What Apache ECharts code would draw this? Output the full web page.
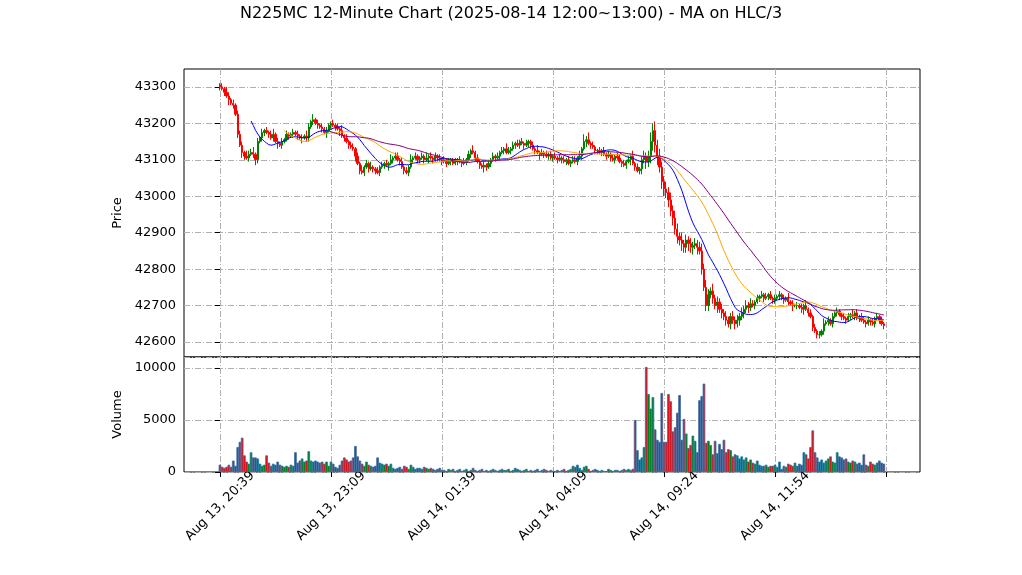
<!DOCTYPE html>
<html><head><meta charset="utf-8">
<script src="https://cdn.jsdelivr.net/npm/echarts@6/dist/echarts.min.js"></script>
<style>html,body{margin:0;padding:0;background:#fff}#c{width:1022px;height:575px}</style>
</head><body><div id="c"></div>
<script>
const closes = [
43300,43295,43285,43275,43265,43255,43250,43225,43170,43140,
43120,43110,43105,43115,43120,43115,43100,43150,43160,43175,
43180,43175,43170,43160,43170,43150,43145,43140,43150,43155,
43170,43165,43170,43175,43170,43165,43160,43160,43165,43160,
43190,43205,43210,43200,43195,43190,43185,43175,43180,43195,
43200,43195,43190,43185,43180,43165,43160,43150,43140,43135,
43130,43110,43090,43070,43065,43080,43090,43075,43080,43075,
43070,43065,43080,43085,43090,43085,43090,43100,43105,43110,
43100,43095,43080,43070,43065,43080,43100,43105,43110,43100,
43105,43110,43100,43105,43110,43105,43100,43110,43105,43100,
43095,43100,43090,43095,43100,43090,43095,43100,43095,43090,
43095,43100,43115,43125,43120,43105,43095,43085,43080,43085,
43080,43090,43100,43110,43105,43110,43120,43125,43130,43120,
43125,43130,43140,43145,43140,43150,43145,43140,43145,43150,
43140,43130,43125,43120,43115,43120,43115,43110,43115,43105,
43110,43105,43100,43105,43100,43095,43100,43090,43095,43100,
43095,43105,43110,43130,43150,43155,43145,43140,43135,43125,
43125,43120,43125,43115,43110,43115,43105,43100,43110,43105,
43095,43090,43085,43095,43100,43110,43090,43080,43070,43075,
43100,43110,43095,43110,43150,43180,43140,43110,43080,43040,
43020,43010,42990,42960,42940,42910,42890,42880,42870,42860,
42880,42870,42860,42865,42870,42860,42850,42800,42750,42700,
42730,42740,42720,42700,42710,42690,42680,42670,42660,42650,
42670,42660,42650,42660,42670,42680,42690,42700,42695,42705,
42700,42710,42720,42725,42730,42720,42725,42730,42720,42715,
42720,42725,42730,42720,42715,42720,42710,42705,42700,42700,
42700,42695,42690,42700,42690,42680,42670,42640,42630,42620,
42620,42630,42650,42655,42660,42650,42670,42680,42685,42675,
42670,42665,42660,42670,42675,42670,42680,42665,42670,42660,
42655,42650,42660,42655,42650,42665,42670,42660,42650,42645];
const firstOpen = 43305;
// upper / lower wick sizes, in units of 5 points
const upperWick = ("1213212122 2132231212 1212312121 2112121213 2131212121 1212131212 2121312131 1212121312 2121213121 1213121212 " +
 "1212112121 2121312112 1212121213 2121212121 1213121212 1212121212 2131424121 1212121212 2121213121 2323545343 " +
 "3434343242 3232323434 3242323232 2323232323 2121212121 2121213121 2121312121 2131212121 1212131212 2121212121").replace(/ /g,'');
const lowerWick = ("2121312121 3212123212 2121213121 1212121312 2121212131 2121312121 1312121212 2121213121 1212121212 2121312121 " +
 "2121211212 1212121213 2121212121 1212121212 2121312121 2121212121 1212131212 2121212121 1212131212 3243454534 " +
 "4343434343 3434242323 3232423232 3232323232 1212121212 2121212131 2123121212 2121212121 2121212121 1212121212").replace(/ /g,'');
const volumes = [
700,500,400,500,700,500,1100,600,2400,2900,
3300,1600,1000,800,1900,1400,1400,1300,800,600,
700,1600,900,600,800,700,1000,700,600,500,
600,500,700,600,1900,900,1100,1300,1000,1100,
2000,1100,1000,1100,1000,900,1000,800,1000,600,
1000,800,500,400,700,1100,1400,1200,1000,1100,
1400,2500,1500,1100,800,600,1000,700,600,500,
600,1400,900,800,700,800,600,800,400,300,
400,500,300,600,500,300,700,500,300,400,
400,300,500,400,300,400,300,200,300,400,
200,200,100,300,200,300,100,200,300,100,
200,300,100,200,400,200,100,200,300,100,
200,100,200,300,200,100,200,300,200,200,
300,100,200,400,300,200,100,200,300,100,
200,100,200,300,100,200,300,200,100,200,
100,100,200,100,200,300,100,200,300,600,
500,700,400,200,500,600,300,100,200,300,
200,100,200,100,100,300,200,100,200,200,
100,200,300,200,300,200,300,5000,2100,1200,
1400,2400,10100,7500,6100,7200,4100,3100,2900,7600,
2900,2900,7500,6800,3900,4300,5700,7400,3100,5100,
3700,2300,2600,3500,3000,1900,6900,7300,8500,2800,
3000,2600,1700,3000,1800,2700,2200,3100,1900,2200,
2100,1500,1700,1600,1300,1500,1200,1400,1000,1200,
900,800,1100,700,600,600,700,500,600,600,
700,500,1000,300,600,500,800,700,600,900,
600,800,700,1900,1700,1300,2400,4000,1900,1400,
1000,1200,900,1100,1300,1500,1000,900,1900,1500,
1400,1200,1300,1000,900,1100,1000,800,900,700,
1700,700,600,1000,800,700,900,1100,900,800];
const tickIndex = [0,50,100,150,200,250,300];
const tickLabels = ['Aug 13, 20:39','Aug 13, 23:09','Aug 14, 01:39','Aug 14, 04:09','Aug 14, 09:24','Aug 14, 11:54',''];
const priceTicks = [42600,42700,42800,42900,43000,43100,43200,43300];
const maWindows = [15,30,50];
const maColors = ['#0000ff','#ffa500','#800080'];

const UP='#008000', DN='#ff0000';
const candles=[], vols=[], hlc=[];
for(let i=0;i<closes.length;i++){
  const o = i===0?firstOpen:closes[i-1], c=closes[i];
  const h=Math.max(o,c)+5*(+upperWick[i]), l=Math.min(o,c)-5*(+lowerWick[i]);
  const up=c>=o;
  candles.push([i,o,c,l,h]);
  vols.push({value:[i,volumes[i]],itemStyle:{color:up?UP:DN}});
  hlc.push((h+l+c)/3);
}
const maSeries = maWindows.map((w,k)=>{
  const d=[];
  for(let i=w-1;i<hlc.length;i++){let s=0;for(let j=i-w+1;j<=i;j++)s+=hlc[j];d.push([i,s/w]);}
  return {type:'line',xAxisIndex:0,yAxisIndex:0,data:d,showSymbol:false,symbol:'none',
    lineStyle:{color:maColors[k],width:1},z:5,animation:false};
});
const grid = '#b0b0b0';
const split = {show:true,lineStyle:{color:grid,type:[6,2,1,2],width:1}};
const font = {fontFamily:'DejaVu Sans',fontSize:13,color:'#000'};
const xmin=-16.2, xmax=315.3;
const ch = echarts.init(document.getElementById('c'),null,{renderer:'canvas'});
ch.setOption({
  animation:false,
  backgroundColor:'#fff',
  title:{text:'N225MC 12-Minute Chart (2025-08-14 12:00~13:00) - MA on HLC/3',left:'center',top:1,
    textStyle:{fontFamily:'DejaVu Sans',fontSize:16,fontWeight:'normal',color:'#000'}},
  grid:[{left:184,width:736,top:69,height:288,show:true,borderColor:'#000',borderWidth:1},
        {left:184,width:736,top:357,height:115,show:true,borderColor:'#000',borderWidth:1}],
  xAxis:[
    {type:'value',gridIndex:0,min:xmin,max:xmax,axisLine:{show:false},
     axisTick:{show:false,customValues:tickIndex},axisLabel:{show:false,customValues:tickIndex},splitLine:split},
    {type:'value',gridIndex:1,min:xmin,max:xmax,axisLine:{show:false},
     axisTick:{show:true,customValues:tickIndex,length:5,lineStyle:{color:'#000'}},
     axisLabel:{customValues:tickIndex,rotate:45,...font,margin:34,align:'center',verticalAlign:'middle',
       formatter:v=>{const k=tickIndex.indexOf(Math.round(v));return k>=0?tickLabels[k]:'';}},
     splitLine:split}
  ],
  yAxis:[
    {type:'value',gridIndex:0,min:42559,max:43349,position:'left',name:'Price',nameLocation:'middle',nameGap:60,
     nameTextStyle:font,axisLine:{show:false},
     axisTick:{show:true,customValues:priceTicks,length:5,lineStyle:{color:'#000'}},
     axisLabel:{...font,customValues:priceTicks,margin:8,formatter:v=>String(v)},splitLine:split},
    {type:'value',gridIndex:1,min:0,max:11058,interval:5000,name:'Volume',nameLocation:'middle',nameGap:53,
     nameTextStyle:font,axisLine:{show:false},axisTick:{show:true,length:5,lineStyle:{color:'#000'}},
     axisLabel:{...font,margin:8,showMaxLabel:false,formatter:v=>String(v)},splitLine:split}
  ],
  series:[
    {type:'candlestick',xAxisIndex:0,yAxisIndex:0,data:candles,barWidth:1.8,encode:{x:0,y:[1,2,3,4]},
     itemStyle:{color:UP,color0:DN,borderColor:UP,borderColor0:DN,borderWidth:1},z:3},
    ...maSeries,
    {type:'bar',xAxisIndex:1,yAxisIndex:1,data:vols,barWidth:2.6,
     itemStyle:{borderColor:'#1f77b4',borderWidth:0.8}}
  ]
});
</script></body></html>
